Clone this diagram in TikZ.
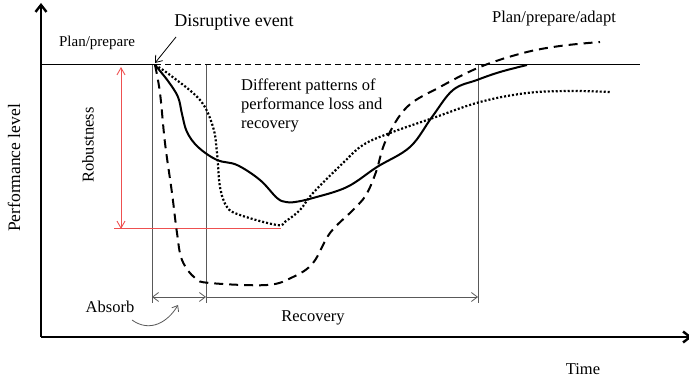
\documentclass[tikz,border=0pt]{standalone}
\usepackage{fontspec}
\setmainfont{Liberation Serif}
\usetikzlibrary{arrows.meta}
\definecolor{robred}{RGB}{238,80,80}
\tikzset{
  lbl/.style={font=\fontsize{16.5}{19}\selectfont},
  guide/.style={gray!70!black,line width=0.8pt},
  span/.style={guide,{Straight Barb[length=6pt,width=9pt]}-{Straight Barb[length=6pt,width=9pt]}},
  curve/.style={line width=2pt,smooth,tension=0.6}
}
\begin{document}
\begin{tikzpicture}[x=1pt,y=-1pt]
			\useasboundingbox (0,0) rectangle (689,379);

			% Draw axes
			\draw[line width=2.4pt,-{Straight Barb[length=7pt,width=11pt]}] (41,337) -- (41,3);
			\draw[line width=2.4pt,-{Straight Barb[length=7pt,width=11pt]}] (41,337) -- (692,337);
			\node[font=\fontsize{17.5}{20}\selectfont,rotate=90] (perf) at (14,168) {Performance level};
			\node[lbl] (time) at (583,369) {Time};

			% Draw normal performance level
			\draw[line width=1pt] (41,65) -- (155,65);
			\draw[line width=1pt,dash pattern=on 6pt off 4pt] (155,65) -- (478,65);
			\draw[line width=1pt] (478,65) -- (640,65);

			% Draw absorb and recovery bounds
			\draw[guide] (152,65) -- (152,303);
			\draw[guide] (206,65) -- (206,303);
			\draw[guide] (478,65) -- (478,303);
			\draw[span] (152,297) -- (206,297);
			\draw[span,{}-{Straight Barb[length=6pt,width=9pt]}] (206,297) -- (478,297);
			\draw[guide,-{Straight Barb[length=5pt,width=8pt]}] (132,320) .. controls (150,333) and (168,322) .. (178,305);

			% Draw robustness
			\draw[robred,line width=0.9pt,{Straight Barb[length=7pt,width=8pt]}-{Straight Barb[length=7pt,width=8pt]}] (121,67) -- (121,229);
			\draw[robred,line width=1pt] (114,229) -- (281,229);
			\node[lbl,rotate=90] (robust) at (88,145) {Robustness};

			% Draw solid curve
			\draw[curve] plot coordinates {(155,65) (168,81) (178,97) (182,114) (187,132) (198,147) (217,160) (237,165) (260,180) (277,198) (286,202) (295,202) (313,198) (347,187) (377,167) (410,147) (432,117) (453,90) (477,80) (500,72) (527,65)};

			% Draw dotted curve
			\draw[curve,dotted,line width=2.2pt] plot coordinates {(155,65) (170,75) (200,100) (213,127) (217,153) (220,187) (227,207) (240,215) (277,225) (286,221) (300,210) (313,193) (343,163) (363,145) (390,133) (433,118) (480,102) (527,93) (570,91) (610,92)};

			% Draw dashed curve
			\draw[curve,dashed,dash pattern=on 9pt off 6pt] plot coordinates {(155,65) (160,93) (165,143) (172,193) (177,233) (182,260) (195,278) (210,283) (267,285) (293,277) (313,263) (330,233) (353,210) (366,195) (376,172) (386,140) (407,107) (440,87) (480,67) (523,53) (560,46) (600,42)};

			% Labels
			\node[font=\fontsize{15}{18}\selectfont] (plan) at (97,43) {Plan/prepare};
			\node[font=\fontsize{18}{21}\selectfont] (event) at (234,22) {Disruptive event};
			\draw[line width=0.8pt,-{Straight Barb[length=6pt,width=9pt]}] (176,37) -- (155,63);
			\node[lbl] (adapt) at (554,19) {Plan/prepare/adapt};
			\node[lbl,align=left,anchor=north west,inner sep=0pt] (patterns) at (241,79) {Different patterns of\\performance loss and\\recovery};
			\node[lbl] (absorb) at (110,307) {Absorb};
			\node[lbl] (recov) at (313,318) {Recovery};
		\end{tikzpicture}
\end{document}
